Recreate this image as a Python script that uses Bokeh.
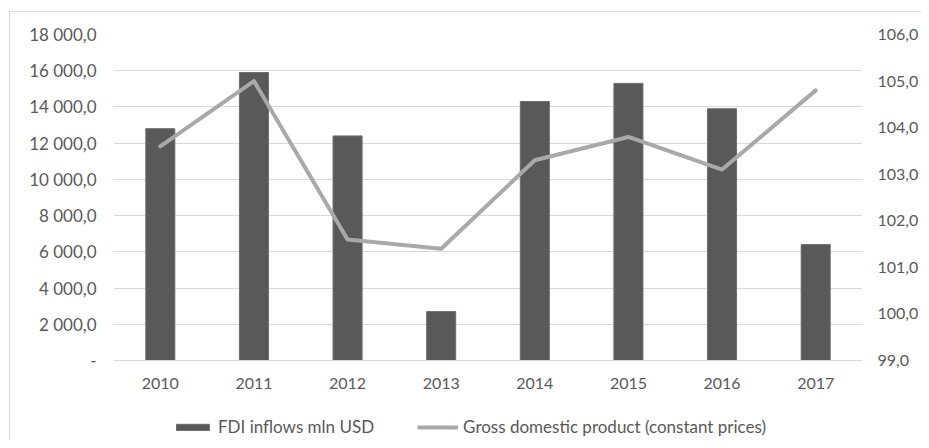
from bokeh.plotting import figure
from bokeh.layouts import column
from bokeh.models import (ColumnDataSource, Range1d, LinearAxis, FixedTicker,
                          Legend, LegendItem)
from bokeh.embed import file_html
from bokeh.resources import INLINE

years = ["2010", "2011", "2012", "2013", "2014", "2015", "2016", "2017"]
fdi = [12800, 15900, 12400, 2700, 14300, 15300, 13900, 6400]
gdp = [103.6, 105.0, 101.6, 101.4, 103.3, 103.8, 103.1, 104.8]
left_ticks = [0, 2000, 4000, 6000, 8000, 10000, 12000, 14000, 16000, 18000]
left_labels = ["-", "2 000,0", "4 000,0", "6 000,0", "8 000,0", "10 000,0",
               "12 000,0", "14 000,0", "16 000,0", "18 000,0"]
right_ticks = [99, 100, 101, 102, 103, 104, 105, 106]
right_labels = ["99,0", "100,0", "101,0", "102,0", "103,0", "104,0", "105,0", "106,0"]
fdi_name = "FDI inflows mln USD"
gdp_name = "Gross domestic product (constant prices)"

FONT = "Lato"
TXT = "#595959"
BAR = "#595959"
BAR_EDGE = "#6b6b6b"
LINE = "#a9a9a9"
GRID = "#d9d9d9"

src = ColumnDataSource(dict(year=years, fdi=fdi, gdp=gdp))

W = 911
p = figure(width=W, height=384, x_range=years, y_range=Range1d(0, 18000),
           output_backend="svg", toolbar_location=None,
           min_border_left=103, min_border_right=54, min_border_top=22,
           min_border_bottom=36)
p.extra_y_ranges = {"gdp": Range1d(99, 106)}
p.outline_line_color = None
p.background_fill_color = "white"
p.border_fill_color = "white"

bars = p.vbar(x="year", top="fdi", width=0.31, source=src,
              fill_color=BAR, line_color=BAR_EDGE, line_width=1)
line = p.line(x="year", y="gdp", source=src, y_range_name="gdp",
              line_color=LINE, line_width=4, line_cap="round", line_join="round")


def style_axis(ax, standoff, size):
    ax.major_tick_line_color = None
    ax.minor_tick_line_color = None
    ax.major_tick_out = 0
    ax.major_tick_in = 0
    ax.minor_tick_out = 0
    ax.minor_tick_in = 0
    ax.major_label_standoff = standoff
    ax.major_label_text_font = FONT
    ax.major_label_text_font_size = size
    ax.major_label_text_color = TXT


# left axis
ya = p.yaxis[0]
ya.ticker = FixedTicker(ticks=left_ticks)
ya.major_label_overrides = {t: l for t, l in zip(left_ticks, left_labels)}
ya.axis_line_color = None
style_axis(ya, 17, "17px")

# right axis
ra = LinearAxis(y_range_name="gdp", ticker=FixedTicker(ticks=right_ticks))
ra.major_label_overrides = {t: l for t, l in zip(right_ticks, right_labels)}
ra.axis_line_color = None
style_axis(ra, 15, "16px")
p.add_layout(ra, "right")

# x axis
xa = p.xaxis[0]
xa.axis_line_color = GRID
style_axis(xa, 17, "16px")

p.xgrid.grid_line_color = None
p.ygrid.grid_line_color = GRID
p.ygrid.grid_line_width = 1

# legend strip (frames of a column are aligned with the chart above)
q = figure(width=W, height=44, x_range=p.x_range, y_range=Range1d(-2, -1),
           output_backend="svg", toolbar_location=None,
           x_axis_location=None, y_axis_location=None,
           min_border=0, min_border_top=0, min_border_bottom=0)
q.outline_line_color = None
q.xgrid.grid_line_color = None
q.ygrid.grid_line_color = None
q.border_fill_color = "white"
lb = q.vbar(x="year", top="fdi", width=0.31, source=src,
            fill_color=BAR, line_color=BAR_EDGE, line_width=1)
ll = q.line(x="year", y="gdp", source=src, line_color=LINE, line_width=4)
lb.visible = False
ll.visible = False

legend = Legend(items=[LegendItem(label=fdi_name, renderers=[lb]),
                       LegendItem(label=gdp_name, renderers=[ll])],
                orientation="horizontal", location=(59, 3),
                glyph_width=41, glyph_height=8, label_standoff=5, spacing=43,
                label_text_font=FONT, label_text_font_size="17px",
                label_text_color=TXT, border_line_color=None,
                background_fill_alpha=0, margin=0, padding=2,
                inactive_fill_alpha=0.0)
q.add_layout(legend)

lay = column(p, q, spacing=0, margin=(11, 0, 0, 9),
             styles={"border-left": "1px solid #d9d9d9",
                     "border-top": "1px solid #d9d9d9"})

open("out.html", "w").write(file_html(lay, INLINE))
